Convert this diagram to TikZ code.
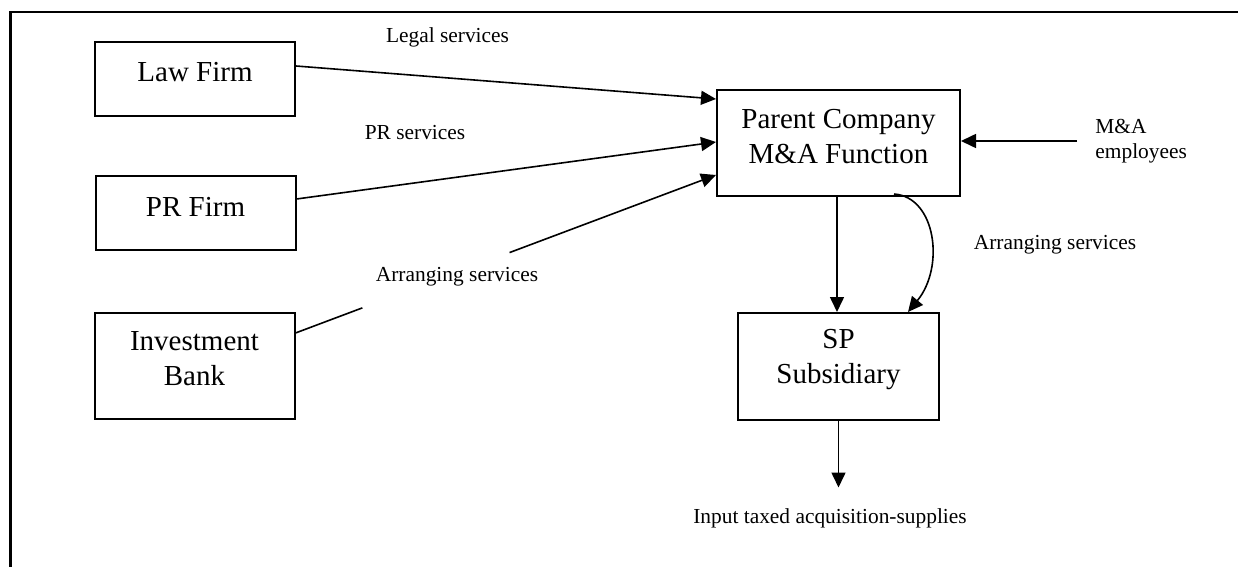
\documentclass[tikz,border=0pt]{standalone}
\usepackage{fontspec}
\setmainfont{Liberation Serif}
\usetikzlibrary{arrows.meta,calc}
\begin{document}
\begin{tikzpicture}[x=0.5pt,y=-0.5pt,
  box/.style={draw,line width=1pt,minimum width=100pt,inner sep=0pt,align=center,font=\fontsize{14.5}{17.5}\selectfont},
  lbl/.style={inner sep=2pt,font=\fontsize{10.7}{12.5}\selectfont},
  conn/.style={line width=0.8pt},
  arr/.style={conn,-{Triangle[length=7.5pt,width=7pt]}},
  frameline/.style={line width=1.15pt}]
\useasboundingbox (0,0) rectangle (1238,567);
% frame (top and left edges only)
\coordinate (ftr) at (1238,12);
\coordinate (ftl) at (10.5,12);
\coordinate (fbl) at (10.5,567);
\draw[frameline] (ftr) -- (ftl) -- (fbl);
% boxes
\node[box,minimum height=37pt,text depth=7pt] (law) at (195,79) {Law Firm};
\node[box,minimum height=37pt,text depth=6pt] (pr) at (195.5,213) {PR Firm};
\node[box,minimum height=53pt,text depth=7pt] (ib) at (194.5,366) {Investment\\Bank};
\node[box,minimum width=121.5pt,minimum height=53pt,text depth=7pt] (parent) at (838.5,143) {Parent Company\\M\&A Function};
\node[box,minimum width=100.5pt,minimum height=53.5pt,text depth=9.65pt] (sp) at (838.5,366.5) {SP\\Subsidiary};
% labels
\node[lbl] (legal) at (447.5,37) {Legal services};
\node[lbl] (prs) at (415,133) {PR services};
\node[lbl] (arrl) at (457,277) {Arranging services};
\node[lbl] (arrr) at (1055,245) {Arranging services};
\node[lbl,align=left,anchor=west] (emp) at (1091,141) {M\&A\\employees};
\node[lbl] (out) at (830,518) {Input taxed acquisition-supplies};
% connectors
\draw[arr] ([yshift=6.5pt]law.east) -- ([yshift=22pt]parent.west);
\draw[arr] ([yshift=7pt]pr.east) -- ([yshift=0.5pt]parent.west);
\coordinate (ibs) at ([yshift=16.5pt]ib.east);
\coordinate (ibe) at ([yshift=-16pt]parent.west);
\coordinate (g1) at ($(ibs)!0.159!(ibe)$);
\coordinate (g2) at ($(ibs)!0.509!(ibe)$);
\draw[conn] (ibs) -- (g1);
\draw[arr] (g2) -- (ibe);
\draw[arr] ([xshift=-0.75pt]parent.south) -- ([xshift=-0.75pt]sp.north);
\coordinate (cs) at ([xshift=27.75pt,yshift=1.5pt]parent.south);
\coordinate (ce) at ([xshift=34.75pt]sp.north);
\draw[arr] (cs) .. controls ($(cs)+(21pt,-1.5pt)$) and ($(ce)+(18.5pt,22.5pt)$) .. (ce);
\draw[arr] ([xshift=-7pt]emp.west) -- (emp.west -| parent.east);
\coordinate (oute) at (sp.south |- out.north);
\draw[arr] (sp.south) -- ([yshift=8.2pt]oute);
\end{tikzpicture}
\end{document}
